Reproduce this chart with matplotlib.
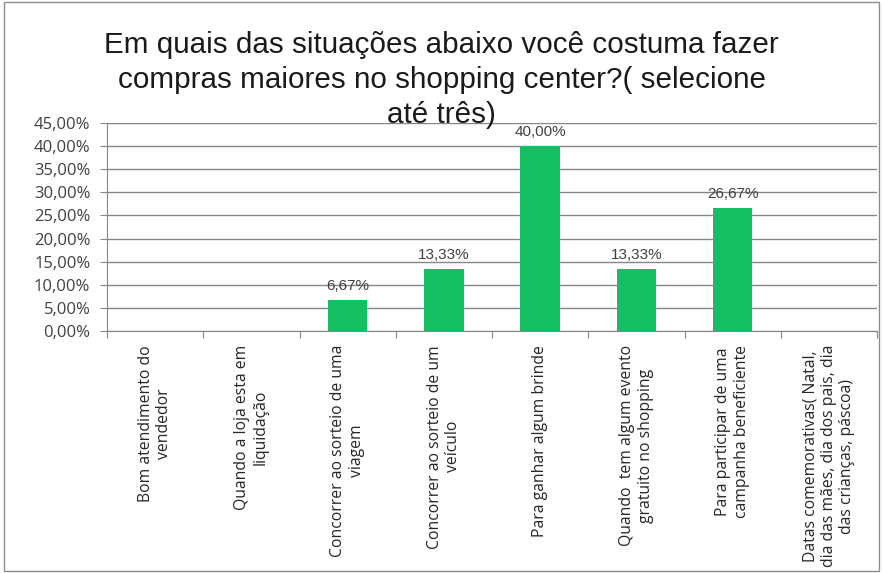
import matplotlib.pyplot as plt
from matplotlib.patches import Rectangle
from matplotlib.ticker import FuncFormatter, MultipleLocator

categorias = [
    "Bom atendimento do\nvendedor",
    "Quando a loja esta em\nliquidação",
    "Concorrer ao sorteio de uma\nviagem",
    "Concorrer ao sorteio de um\nveículo",
    "Para ganhar algum brinde",
    "Quando  tem algum evento\ngratuito no shopping",
    "Para participar de uma\ncampanha beneficiente",
    "Datas comemorativas( Natal,\ndia das mães, dia dos pais, dia\ndas crianças, páscoa)",
]
percentuais = [0.0, 0.0, 6.67, 13.33, 40.00, 13.33, 26.67, 0.0]

linhas_titulo = [
    "Em quais das situações abaixo você costuma fazer",
    "compras maiores no shopping center?( selecione",
    "até três)",
]

cor_barra = "#14BE63"
cor_eixo = "#868686"

fig = plt.figure(figsize=(8.83, 5.73), dpi=100)
ax = fig.add_axes([0.1212, 0.4223, 0.8720, 0.3630])

x = range(len(categorias))
barras = ax.bar(x, percentuais, width=0.41, color=cor_barra, zorder=3)

# rótulos de dados só nas barras com valor
for xi, v in zip(x, percentuais):
    if v > 0:
        ax.annotate(f"{v:.2f}%".replace(".", ","), (xi, v), xytext=(0, 5),
                    textcoords="offset points", ha="center", va="bottom",
                    fontsize=11, color="#404040", family="Liberation Sans")

ax.set_xlim(-0.5, len(categorias) - 0.5)
ax.set_ylim(0, 45)
ax.yaxis.set_major_locator(MultipleLocator(5))
ax.yaxis.set_major_formatter(FuncFormatter(lambda v, _: f"{v:.2f}%".replace(".", ",")))
ax.grid(axis="y", color=cor_eixo, linewidth=1, zorder=0)

ax.set_xticks([i - 0.5 for i in range(len(categorias) + 1)])
ax.set_xticklabels([])
ax.tick_params(axis="x", direction="out", length=5, color=cor_eixo)
ax.tick_params(axis="y", direction="out", length=5, color=cor_eixo,
               labelsize=12, labelcolor="#404040", pad=7)
for lbl in ax.get_yticklabels():
    lbl.set_family("Open Sans")

for lado in ["top", "right"]:
    ax.spines[lado].set_visible(False)
for lado in ["left", "bottom"]:
    ax.spines[lado].set_color(cor_eixo)

# nomes das categorias, girados e centralizados sob cada coluna
for xi, nome in zip(x, categorias):
    ax.text(xi, -3.0, nome, rotation=90, ha="center", va="top",
            multialignment="center", fontsize=11.3, color="#262626",
            family="Open Sans", linespacing=1.2)

# título em três linhas, a última encostada na linha de 45%
for i, linha in enumerate(linhas_titulo):
    fig.text(0.50, 0.9075 - i * 0.0611, linha, ha="center", va="baseline",
             fontsize=21.3, family="Liberation Sans", color="#1a1a1a")

fig.patches.append(Rectangle((0.004, 0.003), 0.992, 0.994, transform=fig.transFigure,
                             fill=False, edgecolor="#8c8c8c", linewidth=1))

fig.savefig("out.png", dpi=100)
